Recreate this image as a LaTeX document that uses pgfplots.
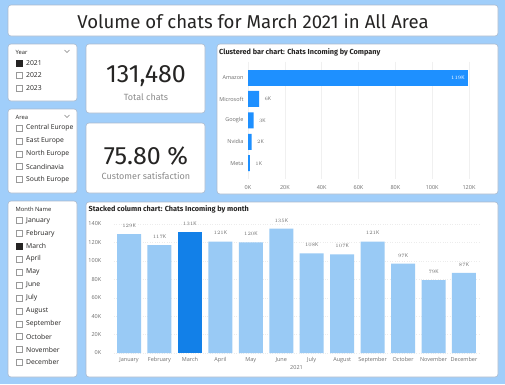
\documentclass[border=0pt]{standalone}
\usepackage{pgfplots}
\pgfplotsset{compat=1.18}
\usepackage{fontspec}
\setmainfont{Open Sans}
\newfontfamily\din{Fira Sans}
\definecolor{bg}{RGB}{160,206,250}
\definecolor{txt}{RGB}{37,36,35}
\definecolor{lbl}{RGB}{110,110,110}
\definecolor{lightbar}{RGB}{153,202,245}
\definecolor{darkbar}{RGB}{18,128,232}
\definecolor{amz}{RGB}{30,144,255}
\definecolor{border}{RGB}{170,185,205}
\newcommand{\fs}[1]{\fontsize{#1}{#1}\selectfont}
\begin{document}
\begin{tikzpicture}
\begin{scope}[x=1pt,y=-1pt]
  \fill[bg] (0,0) rectangle (505,384);
  % panels
  \tikzset{panel/.style={fill=white,draw=border,line width=0.6pt,rounded corners=3pt}}
  \draw[panel] (8,5) rectangle (498,36);
  \draw[panel] (8,44) rectangle (77,101);
  \draw[panel] (86,44) rectangle (205,113);
  \draw[panel] (8,109) rectangle (77,193);
  \draw[panel] (86,123) rectangle (205,193);
  \draw[panel] (217,44) rectangle (498,194);
  \draw[panel] (8,201) rectangle (77,377);
  \draw[panel] (86,202) rectangle (498,377);
  % title
  \node[font=\din\fs{18.6}, text=txt] at (253,21) {Volume of chats for March 2021 in All Area};
  % cards
  \node[font=\din\fs{25}, text=txt] at (146,76) {131,480};
  \node[font=\din\fs{9}, text=lbl!80] at (146,97) {Total chats};
  \node[font=\din\fs{25}, text=txt] at (146,156) {75.80 \%};
  \node[font=\din\fs{9}, text=lbl!80] at (146,176) {Customer satisfaction};
  % slicers
  \tikzset{head/.style={font=\fs{5.8}, text=txt, anchor=west, inner sep=0pt},
           item/.style={font=\fs{6.8}, text=txt, anchor=west, inner sep=0pt},
           cb/.style={draw=gray!80, line width=0.4pt},
           cbf/.style={fill=txt, draw=txt, line width=0.4pt}}
  \node[head] at (15.5,52) {Year};
  \draw[gray, line width=0.4pt] (64.5,50) -- (67,52.5) -- (69.5,50);
  \draw[cbf] (16,60) rectangle (22,66); \node[item] at (26,63) {2021};
  \draw[cb] (16,72.5) rectangle (22,78.5); \node[item] at (26,75.5) {2022};
  \draw[cb] (16,85) rectangle (22,91); \node[item] at (26,88) {2023};
  \node[head] at (15.5,117) {Area};
  \draw[gray, line width=0.4pt] (64.5,115) -- (67,117.5) -- (69.5,115);
  \foreach \t [count=\i from 0] in {Central Europe,East Europe,North Europe,Scandinavia,South Europe}{
    \pgfmathsetmacro{\yy}{128+\i*12.85}
    \draw[cb] (16,\yy-3) rectangle (22,\yy+3);
    \node[item] at (26,\yy) {\t};
  }
  \node[head] at (15.5,209) {Month Name};
  \foreach \t [count=\i from 0] in {January,February,March,April,May,June,July,August,September,October,November,December}{
    \pgfmathsetmacro{\yy}{220.5+\i*12.9}
    \ifnum\i=2
      \draw[cbf] (16,\yy-3) rectangle (22,\yy+3);
    \else
      \draw[cb] (16,\yy-3) rectangle (22,\yy+3);
    \fi
    \node[item] at (26,\yy) {\t};
  }
  % chart titles
  \node[font=\din\bfseries\fs{7.3}, text=txt, anchor=west, inner sep=0pt] at (219,52) {Clustered bar chart: Chats Incoming by Company};
  \node[font=\din\bfseries\fs{7.3}, text=txt, anchor=west, inner sep=0pt] at (88.5,209.5) {Stacked column chart: Chats Incoming by month};
\end{scope}

% Clustered bar chart
\begin{axis}[
  at={(248pt,-179.2pt)}, anchor=south west,
  scale only axis, width=221pt, height=117.7pt,
  xbar, bar width=16pt, bar shift=0pt,
  xmin=0, xmax=120, ymin=-0.75, ymax=4.75, y dir=reverse,
  axis line style={draw=none}, major tick length=0pt,
  xtick={0,20,...,120}, xticklabels={0K,20K,40K,60K,80K,100K,120K},
  ytick={0,...,4}, yticklabels={Amazon,Microsoft,Google,Nvidia,Meta},
  ticklabel style={font=\fs{5.5}, text=lbl},
  xticklabel style={yshift=-3pt},
  yticklabel style={xshift=-1pt},
  xmajorgrids, grid style={gray!12, line width=0.4pt},
  nodes near coords={\pgfmathprintnumber[fixed,precision=0]{\pgfplotspointmeta}K},
  every node near coord/.append style={font=\fs{5.2}, text=lbl},
  point meta=x,
]
\addplot[fill=amz, draw=none, every node near coord/.append style={anchor=east, text=white}] coordinates {(119.48,0)};
\addplot[fill=amz, draw=none, every node near coord/.append style={anchor=west, xshift=2pt}] coordinates {(6,1) (3,2) (2,3) (1,4)};
\end{axis}

% Stacked column chart
\begin{axis}[
  at={(113.8pt,-353pt)}, anchor=south west,
  scale only axis, width=365.4pt, height=129pt,
  ybar, bar width=24pt, bar shift=0pt,
  xmin=-0.5, xmax=11.5, ymin=0, ymax=140,
  axis line style={draw=none}, major tick length=0pt,
  ytick={0,20,...,140}, yticklabels={0K,20K,40K,60K,80K,100K,120K,140K},
  xtick={0,...,11}, xticklabels={January,February,March,April,May,June,July,August,September,October,November,December},
  ticklabel style={font=\fs{5.5}, text=lbl},
  xticklabel style={yshift=-1pt},
  yticklabel style={xshift=-9pt},
  xlabel={2021}, xlabel style={font=\fs{5.5}, text=lbl, yshift=4pt},
  ymajorgrids, grid style={gray!15, dotted, line width=0.4pt},
  nodes near coords={\pgfmathprintnumber[fixed,precision=0]{\pgfplotspointmeta}K},
  every node near coord/.append style={font=\fs{5.2}, text=lbl, yshift=3pt},
  point meta=y,
]
\addplot[fill=lightbar, draw=none] coordinates {(0,129) (1,117) (3,121) (4,120) (5,135) (6,108) (7,107) (8,121) (9,97) (10,79) (11,87)};
\addplot[fill=darkbar, draw=none] coordinates {(2,131.48)};
\end{axis}
\pgfresetboundingbox
\path[use as bounding box] (0,0) rectangle (505pt,-384pt);
\end{tikzpicture}
\end{document}
